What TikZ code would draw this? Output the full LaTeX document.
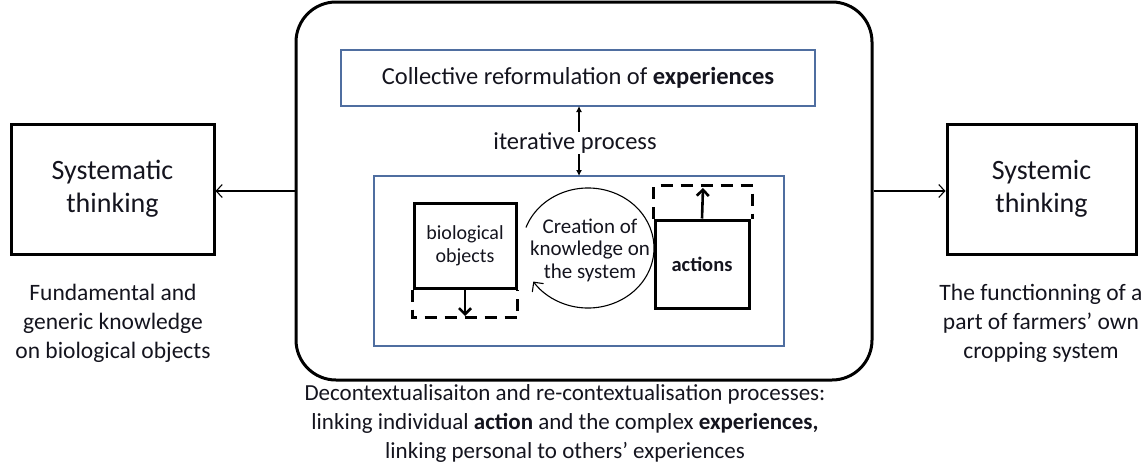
\documentclass[tikz,border=0pt]{standalone}
\usepackage{fontspec}
\setmainfont{Carlito}
\usetikzlibrary{arrows.meta,calc}
\definecolor{boxblue}{RGB}{79,110,160}
\definecolor{txt}{RGB}{20,20,30}
\begin{document}
\begin{tikzpicture}[x=1pt,y=1pt,text=txt,
  thickbox/.style={draw=black,line width=3pt},
  bluebox/.style={draw=boxblue,line width=1.1pt},
  dashbox/.style={draw=black,line width=3pt,dash pattern=on 12pt off 8pt},
  thinarrow/.style={-{Straight Barb[length=6pt,width=13pt]},line width=1.1pt},
  thickarrow/.style={-{Straight Barb[length=6pt,width=12pt]},line width=2.6pt},
  bigtxt/.style={font=\fontsize{28}{33}\selectfont,align=center},
  medtxt/.style={font=\fontsize{23.5}{29}\selectfont,align=center},
  smalltxt/.style={font=\fontsize{20.5}{22.5}\selectfont,align=center}]
\useasboundingbox (0,0) rectangle (1148,-463);
% big rounded container
\node[draw=black,line width=3pt,rounded corners=40pt,minimum width=576pt,minimum height=378pt] (big) at (584,-191) {};
% top box
\node[bluebox,minimum width=474pt,minimum height=56pt,font=\fontsize{24.5}{29}\selectfont] (top) at (578,-78) {Collective reformulation of \textbf{experiences}};
% lower box
\node[bluebox,minimum width=410pt,minimum height=170pt] (low) at (579,-261) {};
\coordinate (lowtop) at (579,-176);
\coordinate (topbot) at (579,-106);
\draw[{Latex[length=6pt,width=6pt]}-{Latex[length=6pt,width=6pt]},line width=1.1pt] (topbot) -- (lowtop);
\node[fill=white,inner sep=1pt,font=\fontsize{24.5}{28}\selectfont] (iter) at (575,-143) {iterative process};
% biological objects
\node[thickbox,minimum width=102pt,minimum height=85pt,font=\fontsize{20}{23}\selectfont,align=center] (bio) at (465,-245.5) {biological\\objects};
\coordinate (biodash) at (465,-316);
\draw[dashbox] (bio.south west) -- ++(0,-28) -| (bio.south east);
\draw[thickarrow] (bio.south) -- (biodash);
% actions
\node[thickbox,minimum width=94pt,minimum height=88pt,font=\bfseries\fontsize{20.5}{23}\selectfont] (act) at (702,-264) {actions};
\coordinate (actdash) at (703,-188);
\draw[dashbox] (act.north west) -- ++(0,33) -| ($(act.north east)+(2,0)$);
\draw[thickarrow] (act.north) -- (actdash);
% knowledge circle
\node[font=\fontsize{21}{22.5}\selectfont,align=center] (kc) at (590,-250) {Creation of\\knowledge on\\the system};
\draw[line width=1.1pt,-{Straight Barb[length=7pt,width=14pt]}] ($(588,-248)+(160:66pt and 60pt)$) arc[start angle=160,end angle=-146,x radius=66pt,y radius=60pt];
% side boxes
\node[thickbox,minimum width=203pt,minimum height=130pt,bigtxt] (sys1) at (112.5,-189) {Systematic\\thinking};
\node[thickbox,minimum width=189pt,minimum height=130pt,bigtxt] (sys2) at (1041.5,-189) {Systemic\\thinking};
\draw[thinarrow] (big.west |- 0,-191) -- (sys1.east |- 0,-191);
\draw[thinarrow] (big.east |- 0,-191) -- (sys2.west |- 0,-191);
% descriptions
\node[medtxt] (d1) at (113,-323) {Fundamental and\\generic knowledge\\on biological objects};
\node[medtxt] (d2) at (1041,-323) {The functionning of a\\part of farmers’ own\\cropping system};
\node[font=\fontsize{23}{29}\selectfont,align=center] (d3) at (565,-423) {Decontextualisaiton and re-contextualisation processes:\\linking individual \textbf{action} and the complex \textbf{experiences,}\\linking personal to others’ experiences};
\end{tikzpicture}
\end{document}
